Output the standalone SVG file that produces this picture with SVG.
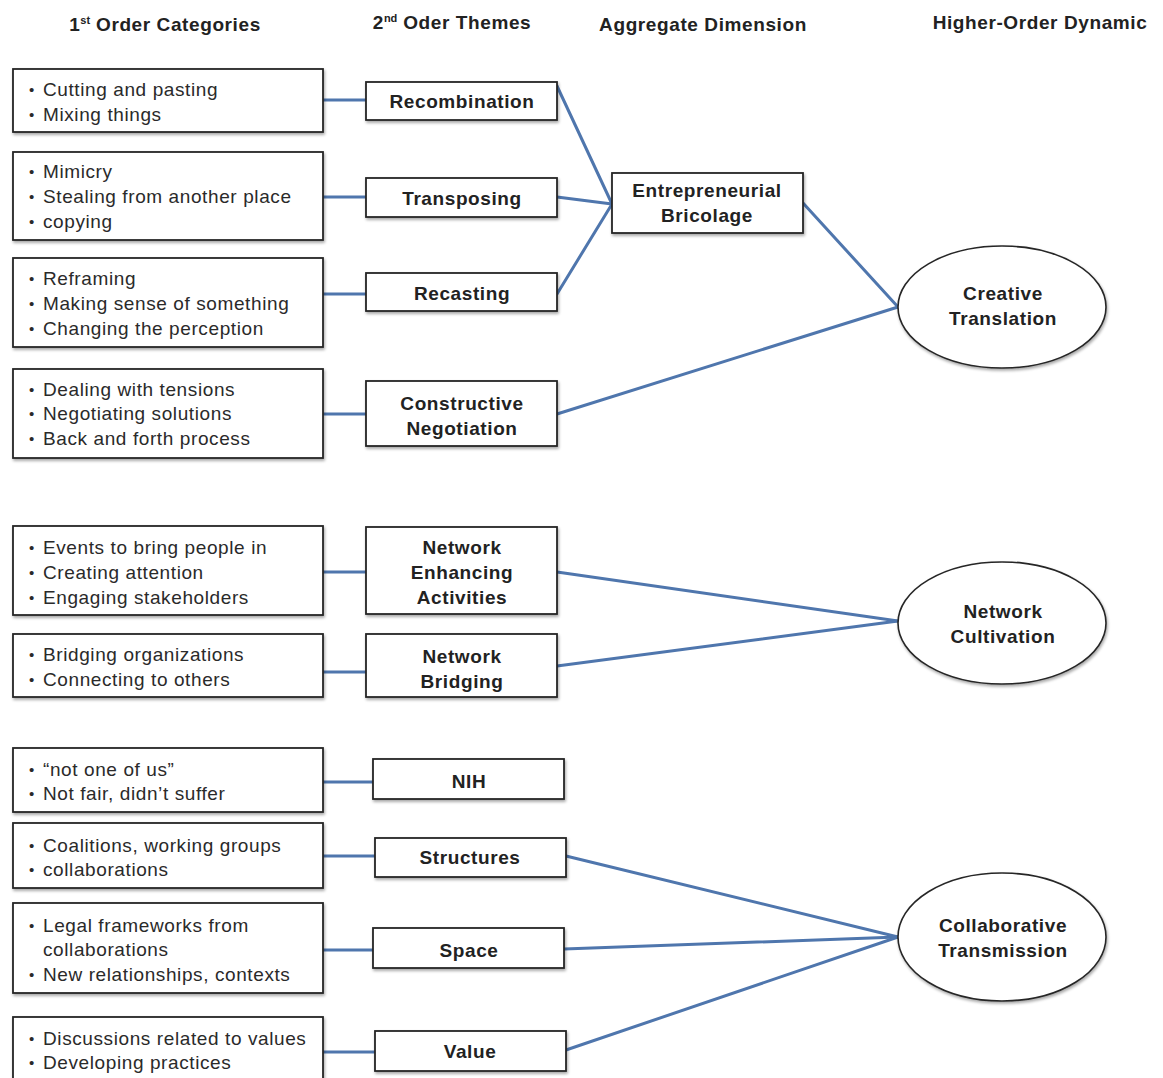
<svg xmlns="http://www.w3.org/2000/svg" width="1163" height="1078" viewBox="0 0 1163 1078">
  <defs>
    <filter id="shadow" x="-10%" y="-10%" width="130%" height="140%">
      <feGaussianBlur in="SourceAlpha" stdDeviation="1.5"/>
      <feOffset dx="1" dy="2" result="b"/>
      <feComponentTransfer><feFuncA type="linear" slope="0.35"/></feComponentTransfer>
      <feMerge><feMergeNode/><feMergeNode in="SourceGraphic"/></feMerge>
    </filter>
  </defs>
  <style>
    text { font-family: "Liberation Sans", Arial, sans-serif; fill: #222; letter-spacing: 0.6px; }
    .hd { font-size: 19px; font-weight: bold; text-anchor: middle; }
    .sup { font-size: 11px; letter-spacing: 0; }
    .it { font-size: 19px; fill: #2a2a2a; }
    .bl { font-size: 15px; fill: #2a2a2a; }
    .lb { font-size: 19px; font-weight: bold; text-anchor: middle; }
    .box { fill: #fff; stroke: #262626; stroke-width: 1.8; filter: url(#shadow); }
    .oval { fill: #fff; stroke: #262626; stroke-width: 1.6; filter: url(#shadow); }
    .edge { stroke: #4f76ad; stroke-width: 3; fill: none; stroke-linecap: round; }
  </style>
  <rect width="1163" height="1078" fill="#fff"/>

  <!-- column headings -->
  <g id="headings">
    <text class="hd" x="165" y="31">1<tspan class="sup" dy="-7">st</tspan><tspan dy="7"> Order Categories</tspan></text>
    <text class="hd" x="452" y="29">2<tspan class="sup" dy="-7">nd</tspan><tspan dy="7"> Oder Themes</tspan></text>
    <text class="hd" x="703" y="31">Aggregate Dimension</text>
    <text class="hd" x="1040" y="29">Higher-Order Dynamic</text>
  </g>

  <!-- connectors -->
  <g id="connectors">
    <line class="edge" x1="323" y1="100" x2="366" y2="100"/>
    <line class="edge" x1="323" y1="197" x2="366" y2="197"/>
    <line class="edge" x1="323" y1="294" x2="366" y2="294"/>
    <line class="edge" x1="323" y1="414" x2="366" y2="414"/>
    <line class="edge" x1="323" y1="572" x2="366" y2="572"/>
    <line class="edge" x1="323" y1="672" x2="366" y2="672"/>
    <line class="edge" x1="323" y1="782" x2="373" y2="782"/>
    <line class="edge" x1="323" y1="856" x2="375" y2="856"/>
    <line class="edge" x1="323" y1="950" x2="373" y2="950"/>
    <line class="edge" x1="323" y1="1052" x2="375" y2="1052"/>

    <line class="edge" x1="557" y1="86" x2="612" y2="204"/>
    <line class="edge" x1="557" y1="197" x2="612" y2="204"/>
    <line class="edge" x1="557" y1="294" x2="612" y2="204"/>
    <line class="edge" x1="803" y1="203" x2="898" y2="307"/>
    <line class="edge" x1="557" y1="414" x2="898" y2="307"/>

    <line class="edge" x1="557" y1="572" x2="898" y2="621"/>
    <line class="edge" x1="557" y1="666" x2="898" y2="621"/>

    <line class="edge" x1="566" y1="856" x2="898" y2="937"/>
    <line class="edge" x1="564" y1="949" x2="898" y2="937"/>
    <line class="edge" x1="566" y1="1050" x2="898" y2="937"/>
  </g>

  <!-- first-order categories -->
  <g id="cat-1">
    <rect class="box" x="13" y="69" width="310" height="63"/>
    <text class="bl" x="29" y="95">•</text><text class="it" x="43" y="96">Cutting and pasting</text>
    <text class="bl" x="29" y="120">•</text><text class="it" x="43" y="121">Mixing things</text>
  </g>
  <g id="cat-2">
    <rect class="box" x="13" y="152" width="310" height="88"/>
    <text class="bl" x="29" y="177">•</text><text class="it" x="43" y="178">Mimicry</text>
    <text class="bl" x="29" y="202">•</text><text class="it" x="43" y="203">Stealing from another place</text>
    <text class="bl" x="29" y="227">•</text><text class="it" x="43" y="228">copying</text>
  </g>
  <g id="cat-3">
    <rect class="box" x="13" y="258" width="310" height="89"/>
    <text class="bl" x="29" y="284">•</text><text class="it" x="43" y="285">Reframing</text>
    <text class="bl" x="29" y="309">•</text><text class="it" x="43" y="310">Making sense of something</text>
    <text class="bl" x="29" y="334">•</text><text class="it" x="43" y="335">Changing the perception</text>
  </g>
  <g id="cat-4">
    <rect class="box" x="13" y="369" width="310" height="89"/>
    <text class="bl" x="29" y="395">•</text><text class="it" x="43" y="396">Dealing with tensions</text>
    <text class="bl" x="29" y="419">•</text><text class="it" x="43" y="420">Negotiating solutions</text>
    <text class="bl" x="29" y="444">•</text><text class="it" x="43" y="445">Back and forth process</text>
  </g>
  <g id="cat-5">
    <rect class="box" x="13" y="526" width="310" height="89"/>
    <text class="bl" x="29" y="553">•</text><text class="it" x="43" y="554">Events to bring people in</text>
    <text class="bl" x="29" y="578">•</text><text class="it" x="43" y="579">Creating attention</text>
    <text class="bl" x="29" y="603">•</text><text class="it" x="43" y="604">Engaging stakeholders</text>
  </g>
  <g id="cat-6">
    <rect class="box" x="13" y="634" width="310" height="63"/>
    <text class="bl" x="29" y="660">•</text><text class="it" x="43" y="661">Bridging organizations</text>
    <text class="bl" x="29" y="685">•</text><text class="it" x="43" y="686">Connecting to others</text>
  </g>
  <g id="cat-7">
    <rect class="box" x="13" y="748" width="310" height="64"/>
    <text class="bl" x="29" y="775">•</text><text class="it" x="43" y="776">“not one of us”</text>
    <text class="bl" x="29" y="799">•</text><text class="it" x="43" y="800">Not fair, didn’t suffer</text>
  </g>
  <g id="cat-8">
    <rect class="box" x="13" y="823" width="310" height="65"/>
    <text class="bl" x="29" y="851">•</text><text class="it" x="43" y="852">Coalitions, working groups</text>
    <text class="bl" x="29" y="875">•</text><text class="it" x="43" y="876">collaborations</text>
  </g>
  <g id="cat-9">
    <rect class="box" x="13" y="903" width="310" height="90"/>
    <text class="bl" x="29" y="931">•</text><text class="it" x="43" y="932">Legal frameworks from</text>
    <text class="it" x="43" y="956">collaborations</text>
    <text class="bl" x="29" y="980">•</text><text class="it" x="43" y="981">New relationships, contexts</text>
  </g>
  <g id="cat-10">
    <rect class="box" x="13" y="1017" width="310" height="70"/>
    <text class="bl" x="29" y="1044">•</text><text class="it" x="43" y="1045">Discussions related to values</text>
    <text class="bl" x="29" y="1068">•</text><text class="it" x="43" y="1069">Developing practices</text>
  </g>

  <!-- second-order themes -->
  <g id="theme-recombination">
    <rect class="box" x="366" y="82" width="191" height="38"/>
    <text class="lb" x="462" y="108">Recombination</text>
  </g>
  <g id="theme-transposing">
    <rect class="box" x="366" y="178" width="191" height="39"/>
    <text class="lb" x="462" y="205">Transposing</text>
  </g>
  <g id="theme-recasting">
    <rect class="box" x="366" y="273" width="191" height="38"/>
    <text class="lb" x="462" y="300">Recasting</text>
  </g>
  <g id="theme-negotiation">
    <rect class="box" x="366" y="381" width="191" height="65"/>
    <text class="lb" x="462" y="410">Constructive</text>
    <text class="lb" x="462" y="435">Negotiation</text>
  </g>
  <g id="theme-enhancing">
    <rect class="box" x="366" y="527" width="191" height="87"/>
    <text class="lb" x="462" y="554">Network</text>
    <text class="lb" x="462" y="579">Enhancing</text>
    <text class="lb" x="462" y="604">Activities</text>
  </g>
  <g id="theme-bridging">
    <rect class="box" x="366" y="634" width="191" height="63"/>
    <text class="lb" x="462" y="663">Network</text>
    <text class="lb" x="462" y="688">Bridging</text>
  </g>
  <g id="theme-nih">
    <rect class="box" x="373" y="759" width="191" height="40"/>
    <text class="lb" x="469" y="788">NIH</text>
  </g>
  <g id="theme-structures">
    <rect class="box" x="375" y="838" width="191" height="39"/>
    <text class="lb" x="470" y="864">Structures</text>
  </g>
  <g id="theme-space">
    <rect class="box" x="373" y="928" width="191" height="40"/>
    <text class="lb" x="469" y="957">Space</text>
  </g>
  <g id="theme-value">
    <rect class="box" x="375" y="1031" width="191" height="40"/>
    <text class="lb" x="470" y="1058">Value</text>
  </g>

  <!-- aggregate dimension -->
  <g id="dim-bricolage">
    <rect class="box" x="612" y="173" width="191" height="60"/>
    <text class="lb" x="707" y="197">Entrepreneurial</text>
    <text class="lb" x="707" y="222">Bricolage</text>
  </g>

  <!-- higher-order dynamics -->
  <g id="dyn-creative">
    <ellipse class="oval" cx="1002" cy="307" rx="104" ry="61"/>
    <text class="lb" x="1003" y="300">Creative</text>
    <text class="lb" x="1003" y="325">Translation</text>
  </g>
  <g id="dyn-network">
    <ellipse class="oval" cx="1002" cy="623" rx="104" ry="61"/>
    <text class="lb" x="1003" y="618">Network</text>
    <text class="lb" x="1003" y="643">Cultivation</text>
  </g>
  <g id="dyn-collab">
    <ellipse class="oval" cx="1002" cy="937" rx="104" ry="64"/>
    <text class="lb" x="1003" y="932">Collaborative</text>
    <text class="lb" x="1003" y="957">Transmission</text>
  </g>
</svg>
